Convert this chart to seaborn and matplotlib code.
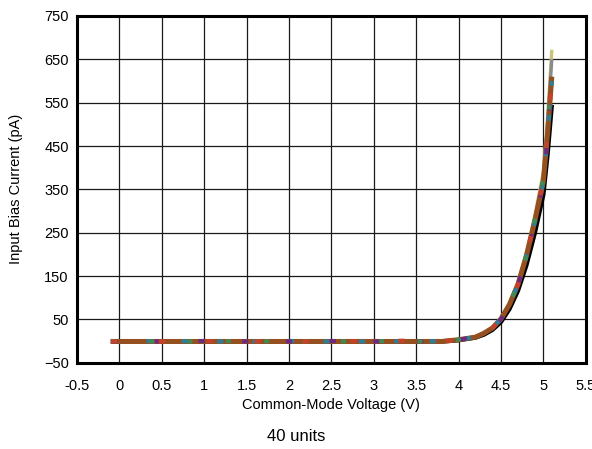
import numpy as np
import pandas as pd
import matplotlib
matplotlib.use("Agg")
import matplotlib.pyplot as plt
import seaborn as sns

# Common-mode voltage (V)
vcm = [-0.1, 0.5, 1.0, 1.5, 2.0, 2.5, 3.0, 3.5, 3.8, 4.0, 4.2, 4.3, 4.4, 4.5, 4.6, 4.7, 4.8, 4.9, 5.0, 5.05, 5.1]

# Input bias current (pA) for a selection of the 40 units
unit_black  = [-1, -1, -1, -1, -1, -1, -1, -1, -1, 2, 8, 15, 26, 44, 74, 116, 175, 250, 338, 432, 545]
unit_olive  = [-1, -1, -1, -1, -1, -1, -1, -1, -1, 3, 10, 19, 32, 53, 88, 136, 205, 290, 390, 515, 672]
unit_gray   = [-1, -1, -1, -1, -1, -1, -1, -1, -1, 3, 10, 19, 31, 52, 86, 133, 201, 284, 380, 500, 650]
unit_brown  = [-1, -1, -1, -1, -1, -1, -1, -1, -1, 3, 9, 18, 30, 51, 84, 130, 196, 277, 368, 478, 610]
unit_teal   = [-1, 0, -1, -1, 0, -1, -1, 0, -1, 3, 9, 18, 30, 51, 84, 130, 196, 276, 366, 474, 600]
unit_purple = [-1, -1, 0, -1, -1, 0, -1, -1, -1, 3, 9, 18, 30, 50, 83, 129, 194, 274, 362, 466, 585]
unit_green  = [0, -1, -1, 0, -1, -1, 0, -1, -1, 3, 9, 18, 30, 51, 85, 131, 197, 279, 371, 483, 620]
unit_red    = [-1, -1, 0, -1, -1, -1, 0, 1, -1, 3, 9, 18, 30, 51, 84, 130, 195, 276, 367, 476, 605]

units = {
    "U1": unit_black, "U2": unit_olive, "U3": unit_gray, "U4": unit_brown,
    "U5": unit_teal, "U6": unit_purple, "U7": unit_green, "U8": unit_red,
}
colors = {
    "U1": "#000000", "U2": "#c9c27a", "U3": "#8a8a8a", "U4": "#96501f",
    "U5": "#2f7d96", "U6": "#6e2a7e", "U7": "#3f8a55", "U8": "#c8402a",
}
widths = {"U1": 3.2, "U2": 2.4, "U3": 2.4, "U4": 3.6, "U5": 3.0, "U6": 3.0, "U7": 3.0, "U8": 3.0}
dashes = {"U1": None, "U2": None, "U3": None, "U4": None,
          "U5": (1.5, 7), "U6": (1.5, 9), "U7": (1.2, 8), "U8": (1.5, 10)}

rows = []
for name, vals in units.items():
    for v, i in zip(vcm, vals):
        rows.append({"vcm": v, "ib": i, "unit": name})
df = pd.DataFrame(rows)

sns.set_theme(style="white")
plt.rcParams["font.family"] = ["Liberation Sans", "DejaVu Sans"]

fig = plt.figure(figsize=(5.92, 4.49), dpi=100)
ax = fig.add_axes([0.130, 0.1922, 0.8594, 0.7722])

for name in ["U1", "U2", "U3", "U4", "U5", "U6", "U7", "U8"]:
    sub = df[df["unit"] == name]
    sns.lineplot(data=sub, x="vcm", y="ib", color=colors[name], linewidth=widths[name],
                 ax=ax, legend=False, estimator=None)
    line = ax.lines[-1]
    line.set_zorder(3)
    line.set_solid_capstyle("butt")
    if dashes[name]:
        line.set_dashes(dashes[name])
        line.set_dash_capstyle("butt")

ax.set_xlim(-0.5, 5.5)
ax.set_ylim(-50, 750)
ax.set_xticks(np.arange(-0.5, 5.51, 0.5))
ax.set_xticklabels(["-0.5", "0", "0.5", "1", "1.5", "2", "2.5", "3", "3.5", "4", "4.5", "5", "5.5"])
ax.set_yticks(np.arange(-50, 751, 100))
ax.grid(True, color="#1a1a1a", linewidth=0.9)
ax.set_axisbelow(True)
for sp in ax.spines.values():
    sp.set_color("black")
    sp.set_linewidth(2.2)
    sp.set_zorder(4)
ax.tick_params(axis="both", length=0, labelsize=10.5, colors="black")
ax.tick_params(axis="x", pad=12)
ax.tick_params(axis="y", pad=6)
ax.set_xlabel("Common-Mode Voltage (V)", fontsize=10.5, color="black", va="center")
ax.xaxis.set_label_coords(0.5, -0.122)
ax.set_ylabel("Input Bias Current (pA)", fontsize=10.5, color="black", va="center")
ax.yaxis.set_label_coords(-0.12, 0.5)
fig.text(0.5, 0.027, "40 units", ha="center", va="center", fontsize=12, color="black")

fig.savefig("out.png", dpi=100)
